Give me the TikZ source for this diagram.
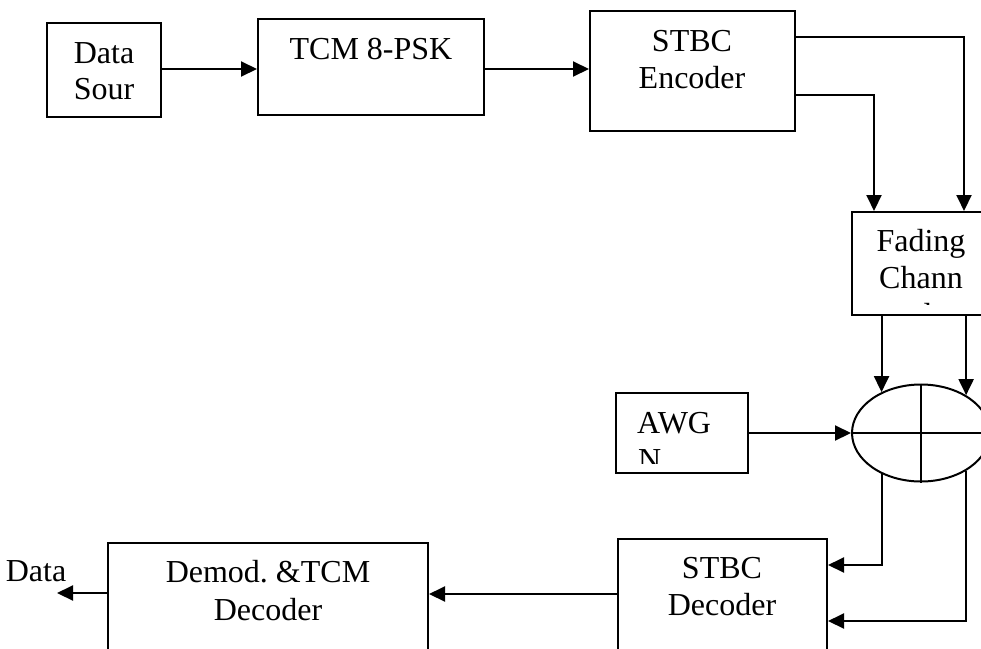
\documentclass[tikz,border=0pt]{standalone}
\usepackage{fontspec}
\setmainfont{Liberation Serif}
\usetikzlibrary{arrows.meta,shapes.geometric}
\frenchspacing
\begin{document}
\begin{tikzpicture}[x=1pt,y=-1pt,
  box/.style={draw, line width=2pt, rectangle, inner sep=0pt},
  lbl/.style={font=\fontsize{32}{37}\selectfont, anchor=base, inner sep=0pt},
  lblw/.style={font=\fontsize{32}{37}\selectfont, anchor=base west, inner sep=0pt},
  conn/.style={line width=2pt, -{Triangle[length=16pt,width=15pt]}},
  plain/.style={line width=2pt}]
\useasboundingbox (0,0) rectangle (981,648);
\clip (0,0) rectangle (981,648);
% boxes
\node[box, minimum width=114, minimum height=94] (ds) at (104,70) {};
\node[box, minimum width=226, minimum height=96] (tcm) at (371,67) {};
\node[box, minimum width=205, minimum height=120] (enc) at (692.5,71) {};
\node[box, minimum width=138, minimum height=103] (fad) at (921,263.5) {};
\node[box, minimum width=132, minimum height=80] (awg) at (682,433) {};
\node[draw, line width=2pt, ellipse, inner sep=0pt, minimum width=138, minimum height=97] (sum) at (921,433) {};
\node[box, minimum width=209, minimum height=126] (dec) at (722.5,602) {};
\node[box, minimum width=320, minimum height=122] (dem) at (268,604) {};
% texts
\node[lbl] (t1) at (104,63) {Data};
\node[lbl] (t2) at (104,99) {Sour};
\node[lbl] (t3) at (371,59) {TCM 8-PSK};
\node[lbl] (t4) at (692,51) {STBC};
\node[lbl] (t5) at (692,88) {Encoder};
\begin{scope}
  \clip (853,213) rectangle (990,304);
  \node[lbl] (t6) at (921,251) {Fading};
  \node[lbl] (t7) at (921,288) {Chann};
  \node[lbl] (t8) at (921,325) {el};
\end{scope}
\begin{scope}
  \clip (617,394) rectangle (747,463);
  \node[lblw] (t9) at (637,433) {AWG};
  \node[lblw] (t10) at (638,470) {N};
\end{scope}
\node[lbl] (t11) at (722,578) {STBC};
\node[lbl] (t12) at (722,615) {Decoder};
\node[lbl] (t13) at (268,582) {Demod. \&TCM};
\node[lbl] (t14) at (268,620) {Decoder};
\node[lbl] (t15) at (36,581) {Data};
% summing cross
\draw[plain] (sum.north) -- (sum.south);
\draw[plain] (sum.west) -- (sum.east);
% connectors
\coordinate (out) at (57,593);
\draw[conn] (ds.east |- 0,69) -- (tcm.west |- 0,69);
\draw[conn] (tcm.east |- 0,69) -- (enc.west |- 0,69);
\draw[conn] (enc.east |- 0,37) -| (fad.north -| 964,0);
\draw[conn] (enc.east |- 0,95) -| (fad.north -| 874,0);
\draw[conn] (sum.134.6 |- fad.south) -- (sum.134.6);
\draw[conn] (sum.40.4 |- fad.south) -- (sum.40.4);
\draw[conn] (awg.east) -- (sum.west);
\draw[conn] (sum.-134.6) |- (dec.east |- 0,565);
\draw[conn] (sum.-40.4) |- (dec.east |- 0,621);
\draw[conn] (dec.west |- 0,594) -- (dem.east |- 0,594);
\draw[conn] (dem.west |- 0,593) -- (out);
\end{tikzpicture}
\end{document}
